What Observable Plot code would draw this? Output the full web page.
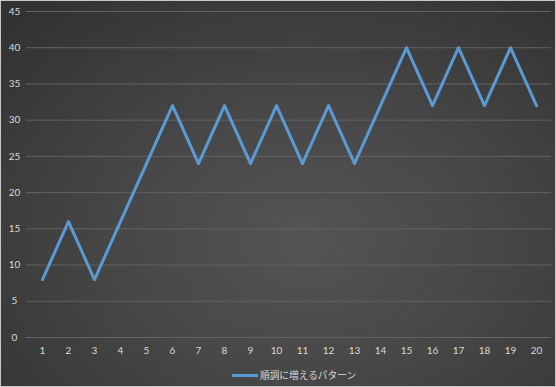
<!DOCTYPE html>
<html>
<head>
<meta charset="utf-8">
<script src="https://cdn.jsdelivr.net/npm/d3@7"></script>
<script src="https://cdn.jsdelivr.net/npm/@observablehq/plot@0.6"></script>
<style>
  html, body { margin: 0; padding: 0; background: #fff; }
  #chart {
    width: 554px; height: 385px;
    border: 1px solid #c8c8c8;
    background: radial-gradient(ellipse 75% 80% at 55% 62%, #545454 0%, #474747 45%, #323232 100%);
    font-family: Lato, "Noto Sans CJK JP", sans-serif;
    position: relative;
    overflow: hidden;
  }
  #legend {
    position: absolute; left: 231px; top: 367px;
    display: flex; align-items: center;
    color: #d9d9d9; font-size: 9.7px;
    font-family: "Noto Sans CJK JP", sans-serif;
  }
  #legend .sw { width: 26px; height: 3px; background: #5B9BD5; margin-right: 2px; }
</style>
</head>
<body>
<div id="chart"></div>
<script>
const categories = ["1","2","3","4","5","6","7","8","9","10","11","12","13","14","15","16","17","18","19","20"];
const values = [8,16,8,16,24,32,24,32,24,32,24,32,24,32,40,32,40,32,40,32];
const yTicks = [0,5,10,15,20,25,30,35,40,45];
const seriesName = "順調に増えるパターン";

const data = categories.map((c, i) => ({cat: c, v: values[i]}));

const plot = Plot.plot({
  width: 554,
  height: 358,
  marginLeft: 25,
  marginRight: 4,
  marginTop: 10,
  marginBottom: 22,
  style: {background: "transparent", color: "#d9d9d9", fontSize: "10px", fontFamily: "Lato, 'Noto Sans CJK JP', sans-serif"},
  x: {type: "point", domain: categories, padding: 0.5, label: null},
  y: {domain: [0, 45], label: null},
  marks: [
    Plot.ruleY(yTicks, {stroke: "#626262", strokeWidth: 1}),
    Plot.axisY(yTicks, {tickSize: 0, tickPadding: 12, textAnchor: "middle", label: null, fill: "#d9d9d9"}),
    Plot.axisX({tickSize: 0, tickPadding: 9, label: null, fill: "#d9d9d9"}),
    Plot.line(data, {x: "cat", y: "v", stroke: "#5B9BD5", strokeWidth: 3, strokeLinejoin: "round"})
  ]
});
const chart = document.getElementById("chart");
chart.appendChild(plot);
const legend = document.createElement("div");
legend.id = "legend";
legend.innerHTML = `<span class="sw"></span><span>${seriesName}</span>`;
chart.appendChild(legend);
</script>
</body>
</html>
